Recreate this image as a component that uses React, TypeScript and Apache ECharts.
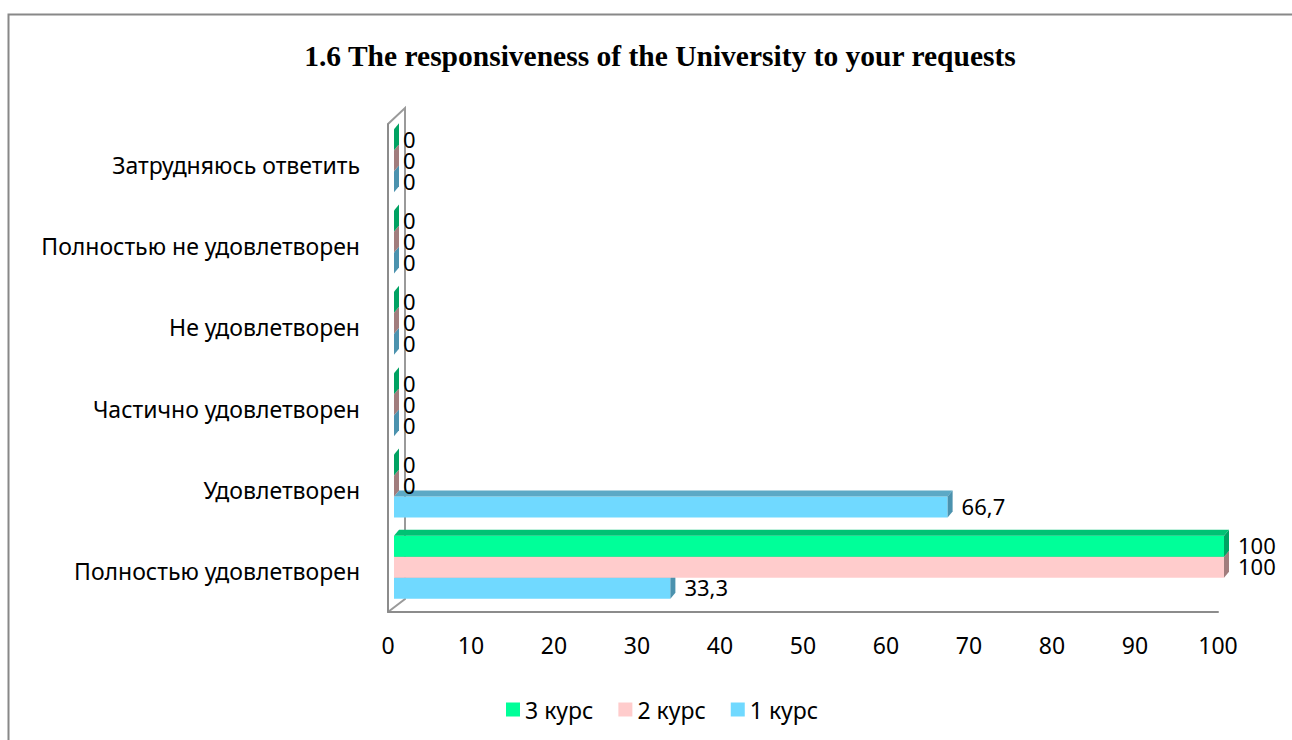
import React, { useEffect, useRef } from "react";
import * as echarts from "echarts";

const categories = [
  "Полностью удовлетворен",
  "Удовлетворен",
  "Частично удовлетворен",
  "Не удовлетворен",
  "Полностью не удовлетворен",
  "Затрудняюсь ответить",
];
const course1 = [33.3, 66.7, 0, 0, 0, 0];
const course2 = [100, 0, 0, 0, 0, 0];
const course3 = [100, 0, 0, 0, 0, 0];
const xTicks = { min: 0, max: 100, interval: 10 };
const title = "1.6 The responsiveness of the University to your requests";

const palette = [
  { name: "1 курс", data: course1, front: "#70D9FF", top: "#5CA9C6", side: "#4B92AE" },
  { name: "2 курс", data: course2, front: "#FFCCCC", top: "#B08A8A", side: "#A17D7D" },
  { name: "3 курс", data: course3, front: "#00FF99", top: "#00C274", side: "#00A262" },
];

const FONT = '"Noto Sans", sans-serif';

export default function App() {
  const ref = useRef<HTMLDivElement>(null);
  useEffect(() => {
    if (!ref.current) return;
    const chart = echarts.init(ref.current, null, { renderer: "svg" });
    const series = palette.map((p, k) => ({
      type: "custom",
      name: p.name,
      itemStyle: { color: p.front },
      data: p.data.map((v, i) => [v, i]),
      encode: { x: 0, y: 1 },
      z: 2 + k,
      renderItem: (params: any, api: any) => {
        const v = api.value(0) as number;
        const cat = api.value(1) as number;
        const p0 = api.coord([0, cat]);
        const p1 = api.coord([v, cat]);
        const band = api.size([0, 1])[1];
        const bh = band * 0.258;
        const cy = p0[1] - 4 + (1 - k) * bh;
        const x0 = p0[0] + 6;
        const x1 = p1[0] + 6;
        const y0 = cy - bh / 2;
        const y1 = cy + bh / 2;
        const dx = 5;
        const dy = 6;
        const label = String(v).replace(".", ",");
        return {
          type: "group",
          children: [
            {
              type: "rect",
              shape: { x: x0, y: y0, width: Math.max(0, x1 - x0), height: bh },
              style: { fill: p.front },
            },
            {
              type: "polygon",
              shape: { points: [[x0, y0], [x0 + dx, y0 - dy], [x1 + dx, y0 - dy], [x1, y0]] },
              style: { fill: p.top },
            },
            {
              type: "polygon",
              shape: { points: [[x1, y0], [x1 + dx, y0 - dy], [x1 + dx, y1 - dy], [x1, y1]] },
              style: { fill: p.side },
            },
            {
              type: "text",
              x: x1 + dx + (v > 0 ? 9 : 4),
              y: cy - 1,
              style: {
                text: label,
                fill: "#000",
                font: `22px ${FONT}`,
                lineHeight: 18,
                verticalAlign: "middle",
                align: "left",
              },
            },
          ],
        };
      },
    }));

    chart.setOption({
      animation: false,
      backgroundColor: "#fff",
      title: {
        text: title,
        left: 655,
        top: 36,
        textAlign: "center",
        textStyle: {
          fontFamily: '"Liberation Serif", "Times New Roman", serif',
          fontWeight: "bold",
          fontSize: 29.5,
          color: "#000",
        },
      },
      legend: {
        data: ["3 курс", "2 курс", "1 курс"],
        left: 501,
        top: 693,
        itemWidth: 14,
        itemHeight: 14,
        itemGap: 25,
        icon: "rect",
        textStyle: { fontFamily: FONT, fontSize: 23, color: "#000" },
      },
      grid: { left: 388, right: 74, top: 124, bottom: 128, containLabel: false },
      xAxis: {
        type: "value",
        min: xTicks.min,
        max: xTicks.max,
        interval: xTicks.interval,
        splitLine: { show: false },
        axisTick: { show: false },
        axisLine: { show: true, lineStyle: { color: "#8c8c8c", width: 2 } },
        axisLabel: { margin: 21, fontFamily: FONT, fontSize: 23, color: "#000" },
      },
      yAxis: {
        type: "category",
        data: categories,
        axisTick: { show: false },
        axisLine: { show: true, lineStyle: { color: "#8c8c8c", width: 2 } },
        axisLabel: { margin: 28, fontFamily: FONT, fontSize: 23, color: "#000" },
      },
      graphic: [
        {
          type: "rect",
          z: -10,
          silent: true,
          shape: { x: 8.5, y: 14.5, width: 1320, height: 800 },
          style: { fill: "none", stroke: "#888", lineWidth: 2 },
        },
        {
          type: "polyline",
          z: -5,
          silent: true,
          shape: { points: [[388, 124], [405, 108], [405, 599], [388, 612]] },
          style: { fill: "none", stroke: "#9a9a9a", lineWidth: 2 },
        },
      ],
      series,
    });
    return () => chart.dispose();
  }, []);
  return (
    <div
      ref={ref}
      style={{ position: "fixed", left: 0, top: 0, width: 1292, height: 740 }}
    />
  );
}
